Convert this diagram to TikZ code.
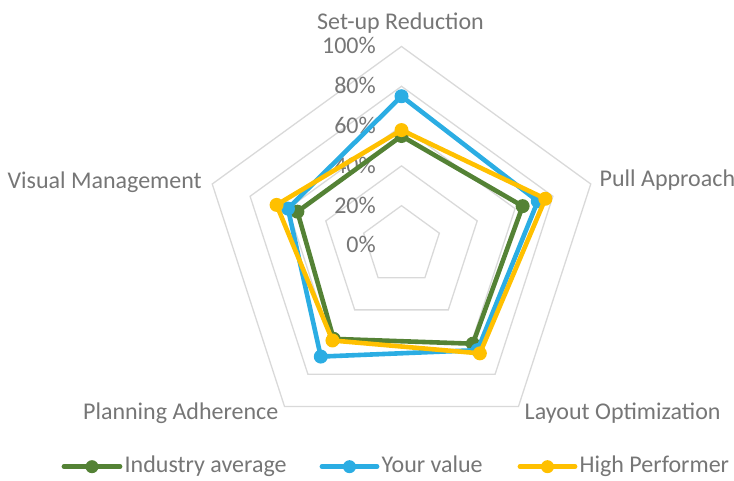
\documentclass[tikz,border=0pt]{standalone}
\usepackage{fontspec}
\usetikzlibrary{calc}
\setmainfont{Carlito}
\definecolor{gridc}{HTML}{D9D9D9}
\definecolor{txtc}{HTML}{767676}
\definecolor{sgreen}{HTML}{548235}
\definecolor{sblue}{HTML}{2BADE3}
\definecolor{syellow}{HTML}{FFC000}
\begin{document}
\begin{tikzpicture}[x=1pt,y=1pt,
  grid/.style={draw=gridc, line width=1.3pt, line join=miter},
  lbl/.style={text=txtc, font=\fontsize{24}{28}\selectfont, inner sep=0pt},
  series/.style={line width=4.6pt, line join=round, line cap=round},
  dot/.style={circle, inner sep=0pt, minimum size=14pt},
  legline/.style={line width=4.8pt, line cap=round}
]
\useasboundingbox (0,0) rectangle (734,481);
\coordinate (c) at (401.5,235.5);
\def\R{199}
% grid rings
\foreach \k in {1,...,5}{
  \pgfmathsetmacro\rr{\k*\R/5}
  \draw[grid] ($(c)+(90:\rr)$) -- ($(c)+(18:\rr)$) -- ($(c)+(-54:\rr)$) -- ($(c)+(-126:\rr)$) -- ($(c)+(162:\rr)$) -- cycle;
}
% percentage labels
\foreach \k/\t in {0/0\%,1/20\%,2/40\%,3/60\%,4/80\%,5/100\%}{
  \node[lbl, anchor=base east] (p\k) at (376, 235.5+\k*39.8-7.5) {\t};
}
% axis labels
\node[lbl, anchor=base] (setup) at (400.5,451.5) {Set-up Reduction};
\node[lbl, anchor=base west] (pull) at (599.5,294.3) {Pull Approach};
\node[lbl, anchor=base east] (visual) at (202,292.7) {Visual Management};
\node[lbl, anchor=base west] (layout) at (524.5,61.7) {Layout Optimization};
\node[lbl, anchor=base east] (planning) at (278.5,61.7) {Planning Adherence};
% series
\foreach \name/\col/\a/\b/\cc/\d/\e in {g/sgreen/55/64/61/58/55, b/sblue/75/72/65/69/60, y/syellow/58/76/67/59/66}{
  \coordinate (\name1) at ($(c)+(90:\a*\R/100)$);
  \coordinate (\name2) at ($(c)+(18:\b*\R/100)$);
  \coordinate (\name3) at ($(c)+(-54:\cc*\R/100)$);
  \coordinate (\name4) at ($(c)+(-126:\d*\R/100)$);
  \coordinate (\name5) at ($(c)+(162:\e*\R/100)$);
  \draw[series, draw=\col] (\name1) -- (\name2) -- (\name3) -- (\name4) -- (\name5) -- cycle;
  \foreach \i in {1,...,5}{
    \node[dot, fill=\col] (\name m\i) at (\name\i) {};
  }
}
% legend
\coordinate (lg1) at (64,14.3);
\coordinate (lg2) at (120,14.3);
\draw[legline, sgreen] (lg1) -- (lg2);
\node[dot, fill=sgreen, minimum size=13pt] (lgd) at (92,14.3) {};
\node[lbl, anchor=base west] (lgt) at (124.5,8.3) {Industry average};
\coordinate (lb1) at (322,14.3);
\coordinate (lb2) at (377,14.3);
\draw[legline, sblue] (lb1) -- (lb2);
\node[dot, fill=sblue, minimum size=13pt] (lbd) at (349.5,14.3) {};
\node[lbl, anchor=base west] (lbt) at (381.5,8.3) {Your value};
\coordinate (ly1) at (520,14.3);
\coordinate (ly2) at (575,14.3);
\draw[legline, syellow] (ly1) -- (ly2);
\node[dot, fill=syellow, minimum size=13pt] (lyd) at (547.5,14.3) {};
\node[lbl, anchor=base west] (lyt) at (579.5,8.3) {High Performer};
\end{tikzpicture}
\end{document}
